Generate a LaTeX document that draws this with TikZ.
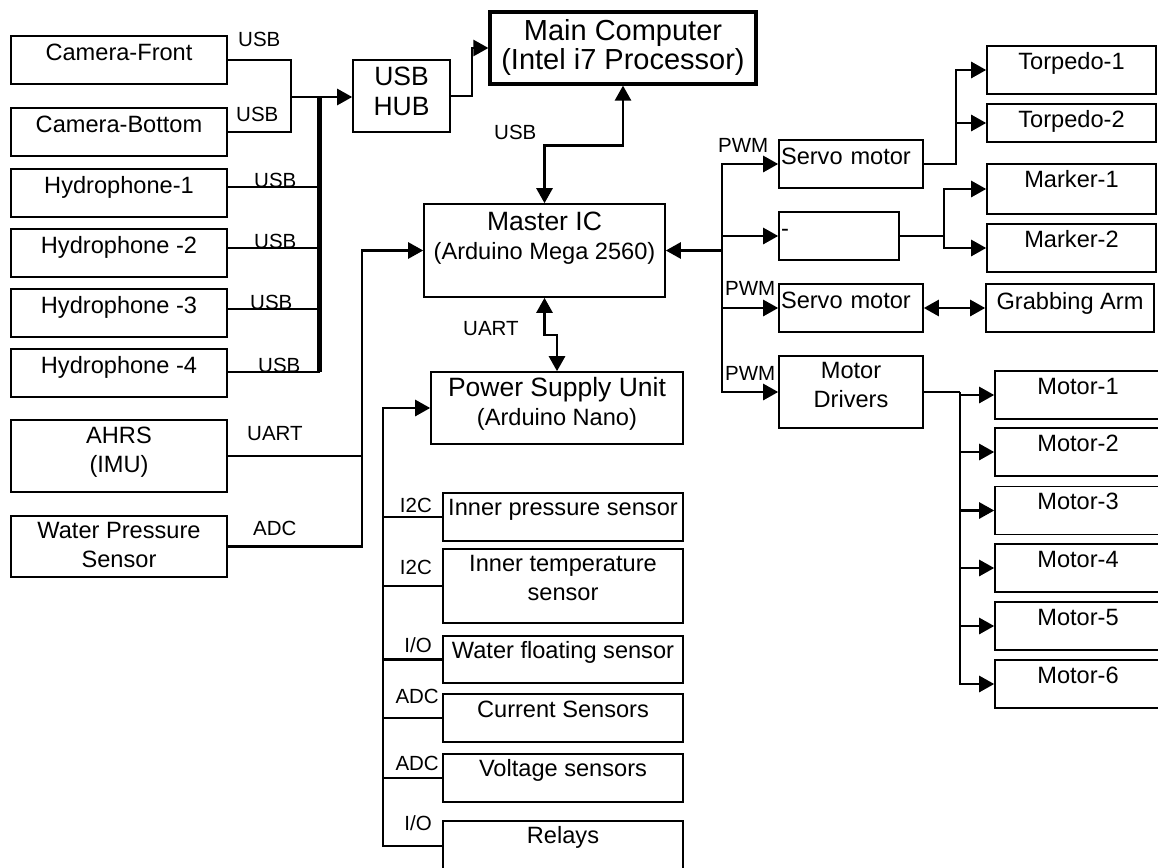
\documentclass[tikz,border=0pt]{standalone}
\usepackage{fontspec}
\setmainfont{Liberation Sans}
\usetikzlibrary{arrows.meta}
\newcommand{\fsmall}{\fontsize{20.5}{24}\selectfont}
\newcommand{\fmain}{\fontsize{23.6}{28.5}\selectfont}
\newcommand{\fbig}{\fontsize{26.5}{30}\selectfont}
\newcommand{\fhuge}{\fontsize{29}{29.5}\selectfont}
\tikzset{
    box/.style={draw, line width=1.6pt, inner sep=0pt, align=center,
        font=\fmain, text height=24pt},
    wire/.style={line width=2.6pt},
    thinwire/.style={line width=2pt},
    bus/.style={line width=5pt},
    arr/.style={-{Triangle[length=15pt,width=16pt]}},
    darr/.style={{Triangle[length=15pt,width=16pt]}-{Triangle[length=15pt,width=16pt]}},
    lbl/.style={font=\fsmall, inner sep=0pt, anchor=base west},
}
\begin{document}
\begin{tikzpicture}[x=1pt, y=-1pt]
    \useasboundingbox (0,0) rectangle (1158,867);

    % sensors on the left
    \node[box, minimum width=216pt, text depth=24pt] (camfront) at (119,60) {Camera-Front};
    \node[box, minimum width=216pt, text depth=24pt] (cambottom) at (119,132) {Camera-Bottom};
    \node[box, minimum width=216pt, text depth=24pt] (hydro1) at (119,193) {Hydrophone-1};
    \node[box, minimum width=216pt, text depth=24pt] (hydro2) at (119,253) {Hydrophone -2};
    \node[box, minimum width=216pt, text depth=24pt] (hydro3) at (119,313) {Hydrophone -3};
    \node[box, minimum width=216pt, text depth=24pt] (hydro4) at (119,373) {Hydrophone -4};
    \node[box, minimum width=216pt, text height=52pt, text depth=20pt] (ahrs) at (119,456) {AHRS\\(IMU)};
    \node[box, minimum width=216pt, text height=51pt, text depth=10pt] (wpress) at (119,546.5) {Water Pressure\\Sensor};

    % computers
    \node[box, font=\fbig, minimum width=97pt, text height=55pt, text depth=17pt] (usbhub) at (401.5,96) {USB\\HUB};
    \node[box, font=\fhuge, line width=3.2pt, minimum width=266pt, text height=58pt, text depth=14pt] (mainpc) at (623,48) {Main Computer\\(Intel i7 Processor)};
    \node[box, minimum width=241pt, text height=55pt, text depth=38pt] (master) at (544.5,250.5) {{\fbig Master IC}\\(Arduino Mega 2560)};
    \node[box, minimum width=252pt, text height=53pt, text depth=19pt] (psu) at (557,408) {{\fbig Power Supply Unit}\\(Arduino Nano)};

    % actuators
    \node[box, minimum width=144pt, text width=140pt, align=left, text depth=24pt] (servoa) at (851,164) {Servo motor};
    \node[box, minimum width=120pt, text width=116pt, align=left, text depth=24pt] (blank) at (839,236) {-};
    \node[box, minimum width=144pt, text width=140pt, align=left, text depth=24pt] (servob) at (851,308) {Servo motor};
    \node[box, minimum width=144pt, text height=51pt, text depth=21pt] (motdrv) at (851,392) {Motor\\Drivers};
    \node[box, minimum width=169pt, text height=23pt, text depth=25pt] (torpa) at (1071.5,70) {Torpedo-1};
    \node[box, minimum width=169pt, text height=23pt, text depth=15pt] (torpb) at (1071.5,123) {Torpedo-2};
    \node[box, minimum width=169pt, text height=23pt, text depth=27pt] (markera) at (1071.5,189) {Marker-1};
    \node[box, minimum width=169pt, text height=23pt, text depth=25pt] (markerb) at (1071.5,248) {Marker-2};
    \node[box, minimum width=168pt, text height=25pt, text depth=23pt] (grab) at (1070,308) {Grabbing Arm};
    \foreach \i/\y in {1/395,2/452,3/510.5,4/568,5/626,6/684}
        \node[box, minimum width=166pt, text height=23pt, text depth=25pt] (motor\i) at (1078,\y) {Motor-\i};

    % power supply side
    \node[box, minimum width=240pt, text height=22pt, text depth=26pt] (innerp) at (563,517) {Inner pressure sensor};
    \node[box, minimum width=240pt, text height=51pt, text depth=23pt] (innert) at (563,586) {Inner temperature\\sensor};
    \node[box, minimum width=240pt, text height=22pt, text depth=25pt] (wfloat) at (563,659.5) {Water floating sensor};
    \node[box, minimum width=240pt, text height=23pt, text depth=25pt] (cursens) at (563,718) {Current Sensors};
    \node[box, minimum width=240pt, text height=22pt, text depth=26pt] (voltsens) at (563,778) {Voltage sensors};
    \node[box, minimum width=240pt, text height=22pt, text depth=28pt] (relays) at (563,846) {Relays};

    % usb side
    \coordinate (usbj) at (291,97);
    \coordinate (hbus) at (319,97);
    \draw[wire] (camfront.east) -| (usbj) |- (cambottom.east);
    \draw[wire, arr] (usbj) -- (usbj -| usbhub.west);
    \foreach \n/\s in {hydro1/6,hydro2/5,hydro3/4,hydro4/1}
        \draw[thinwire] ([yshift=\s pt]\n.east) -| (hbus);
    \draw[bus] (hbus) -- ++(0,275);
    \draw[wire, arr] (usbhub.east) -- ++(21,0) |- (mainpc.west);
    \draw[wire, darr] (mainpc.south) -- ++(0,60) -| (master.north);
    \draw[wire, darr] (master.south) -- ++(0,37) -| (psu.north);

    \node[lbl] (l-usb1) at (238,47) {USB};
    \node[lbl] (l-usb2) at (236,121) {USB};
    \node[lbl] (l-usb3) at (254,187) {USB};
    \node[lbl] (l-usb4) at (254,248) {USB};
    \node[lbl] (l-usb5) at (250,309) {USB};
    \node[lbl] (l-usb6) at (258,372) {USB};
    \node[lbl] (l-usb7) at (494,139) {USB};
    \node[lbl] (l-uart1) at (463,335) {UART};

    % inputs of the master
    \coordinate (lbus) at (362,250.5);
    \draw[wire, arr] (wpress.east) -| (lbus) -- (master.west);
    \draw[wire] (ahrs.east) -- (ahrs.east -| lbus);
    \node[lbl] (l-uart2) at (247,440) {UART};
    \node[lbl] (l-adc1) at (253,535) {ADC};

    % outputs of the master
    \coordinate (rbus) at (722,250.5);
    \draw[wire, arr] (rbus) -- (master.east);
    \foreach \n in {servoa,blank,servob,motdrv}
        \draw[wire, arr] (rbus) |- (\n.west);
    \node[lbl] (l-pwm1) at (718,152) {PWM};
    \node[lbl] (l-pwm2) at (725,295) {PWM};
    \node[lbl] (l-pwm3) at (725,380) {PWM};

    \draw[wire, arr] (servoa.east) -- ++(32,0) coordinate (tj) |- (torpa.west);
    \draw[wire, arr] (tj) |- (torpb.west);
    \draw[wire, arr] (blank.east) -- ++(44,0) coordinate (mj) |- (markera.west);
    \draw[wire, arr] (mj) |- (markerb.west);
    \draw[wire, darr] (servob.east) -- (grab.west);
    \draw[wire] (motdrv.east) -- ++(36,0) coordinate (dj);
    \foreach \i in {1,...,6}
        \draw[wire, arr] (dj) |- (motor\i.west);

    % power supply bus
    \coordinate (pbus) at (383,408);
    \draw[wire, arr] (relays.west) -| (pbus) -- (psu.west);
    \foreach \n in {innerp,innert,wfloat,cursens,voltsens}
        \draw[wire] (\n.west) -- (\n.west -| pbus);
    \node[lbl, anchor=base east] (l-i2c1) at (432,512) {I2C};
    \node[lbl, anchor=base east] (l-i2c2) at (432,574) {I2C};
    \node[lbl, anchor=base east] (l-io1) at (432,652) {I/O};
    \node[lbl, anchor=base east] (l-adc2) at (439,703) {ADC};
    \node[lbl, anchor=base east] (l-adc3) at (439,770) {ADC};
    \node[lbl, anchor=base east] (l-io2) at (432,830) {I/O};
\end{tikzpicture}
\end{document}
